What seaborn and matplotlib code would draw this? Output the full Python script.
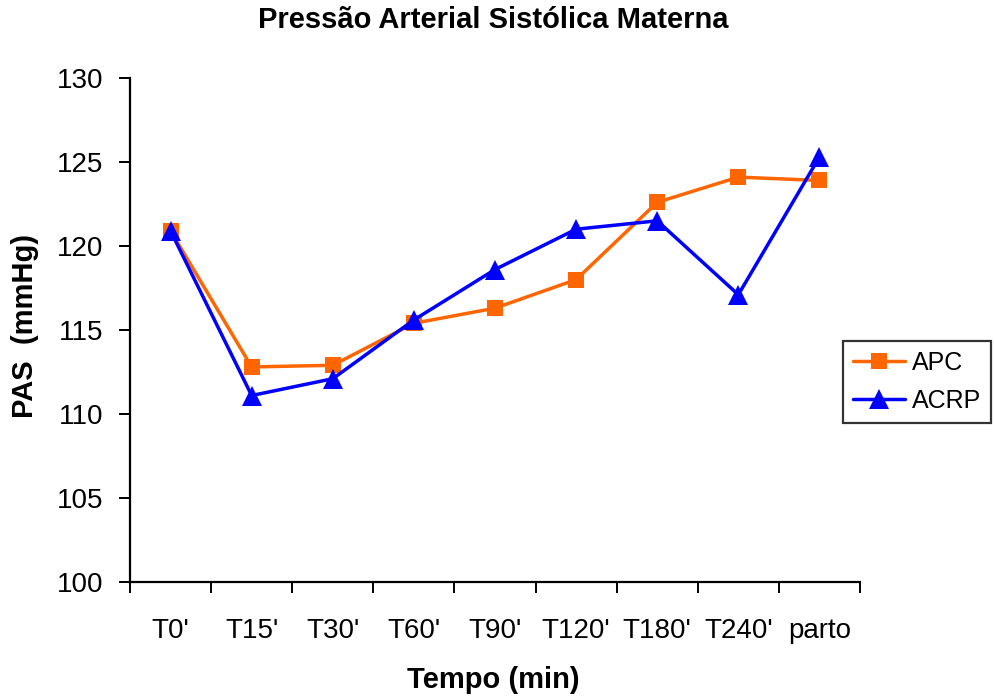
import matplotlib
matplotlib.use("Agg")
import matplotlib.pyplot as plt
from matplotlib.ticker import FixedLocator, NullFormatter
import seaborn as sns
import pandas as pd

# Time points and systolic pressure means (mmHg) for each group
tempos = ["T0'", "T15'", "T30'", "T60'", "T90'", "T120'", "T180'", "T240'", "parto"]
apc = [120.9, 112.8, 112.9, 115.4, 116.3, 118.0, 122.6, 124.1, 123.9]
acrp = [120.9, 111.1, 112.1, 115.6, 118.6, 121.0, 121.5, 117.1, 125.3]
grupos = ["APC", "ACRP"]
y_ticks = [100, 105, 110, 115, 120, 125, 130]

sns.set_theme(style="white")
plt.rcParams["font.family"] = ["Liberation Sans", "DejaVu Sans"]
plt.rcParams.update({
    "text.color": "black",
    "axes.labelcolor": "black",
    "xtick.color": "black",
    "ytick.color": "black",
})

df = pd.DataFrame({
    "pos": list(range(len(tempos))) * 2,
    "valor": apc + acrp,
    "grupo": [grupos[0]] * len(tempos) + [grupos[1]] * len(tempos),
})

fig = plt.figure(figsize=(9.95, 6.98), dpi=100)
ax = fig.add_axes([130 / 995, 1 - 582 / 698, 730 / 995, 504 / 698])

palette = {"APC": "#FF6600", "ACRP": "#0000FF"}
markers = {"APC": "s", "ACRP": "^"}
sns.lineplot(data=df, x="pos", y="valor", hue="grupo", style="grupo",
             palette=palette, markers=markers, dashes=False, sort=False,
             linewidth=2.5, markersize=12, markeredgewidth=0, ax=ax)
# Triangles a bit larger than squares
for line in ax.get_lines():
    if line.get_marker() == "^":
        line.set_markersize(15)

ax.set_xlim(-0.5, len(tempos) - 0.5)
ax.set_ylim(y_ticks[0], y_ticks[-1])
ax.set_yticks(y_ticks)

# Category ticks sit between the points, labels centred under each point
ax.xaxis.set_major_locator(FixedLocator([i - 0.5 for i in range(len(tempos) + 1)]))
ax.xaxis.set_major_formatter(NullFormatter())
ax.xaxis.set_minor_locator(FixedLocator(list(range(len(tempos)))))
ax.set_xticklabels(tempos, minor=True)
ax.tick_params(axis="x", which="major", length=8, width=1.4, direction="out",
               bottom=True, color="black")
ax.tick_params(axis="x", which="minor", length=0, labelsize=20, pad=26,
               bottom=True)
ax.tick_params(axis="y", length=8, width=1.4, direction="out", left=True,
               labelsize=20, color="black", pad=11)

for side in ["top", "right"]:
    ax.spines[side].set_visible(False)
for side in ["left", "bottom"]:
    ax.spines[side].set_color("black")
    ax.spines[side].set_linewidth(1.6)
ax.grid(False)

ax.set_xlabel("Tempo (min)", fontsize=21, fontweight="bold")
ax.xaxis.set_label_coords(493 / 995, 1 - 680 / 698, transform=fig.transFigure)
ax.xaxis.label.set_verticalalignment("center")
ax.set_ylabel("PAS  (mmHg)", fontsize=21, fontweight="bold")
ax.yaxis.set_label_coords(25 / 995, 1 - 326 / 698, transform=fig.transFigure)
ax.yaxis.label.set_verticalalignment("center")

fig.text(493 / 995, 1 - 20 / 698, "Pressão Arterial Sistólica Materna",
         ha="center", va="center", fontsize=21, fontweight="bold")

leg = ax.legend(loc="upper left", bbox_to_anchor=(843 / 995, 1 - 341 / 698),
                bbox_transform=fig.transFigure, fontsize=18, frameon=True,
                fancybox=False, edgecolor="black", handlelength=2.1,
                borderpad=0.4, labelspacing=0.55, handletextpad=0.25,
                borderaxespad=0)
leg.get_frame().set_linewidth(1.6)

fig.savefig("out.png", dpi=100)
